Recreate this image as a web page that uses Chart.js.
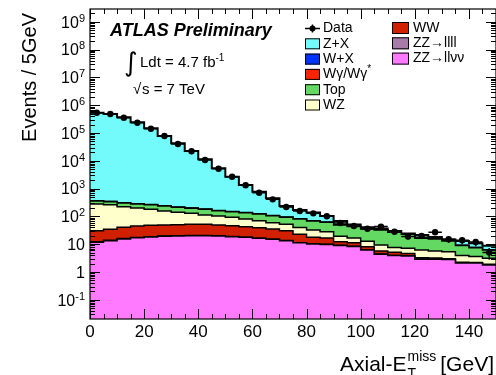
<!DOCTYPE html>
<html>
<head>
<meta charset="utf-8">
<script src="https://cdn.jsdelivr.net/npm/chart.js@4.4.1/dist/chart.umd.min.js"></script>
<style>
  html, body { margin: 0; padding: 0; background: #fff; overflow: hidden; }
  #wrap { width: 500px; height: 375px; }
</style>
</head>
<body>
<div id="wrap"><canvas id="metChart" width="500" height="375"></canvas></div>
<script>
// Axial-MET distribution, 5 GeV bins from 0 to 150 GeV
const binWidth = 5;
const binLow = [0, 5, 10, 15, 20, 25, 30, 35, 40, 45, 50, 55, 60, 65, 70,
                75, 80, 85, 90, 95, 100, 105, 110, 115, 120, 125, 130, 135, 140, 145];

const dataCounts = [537200, 482000, 355000, 235000, 143000, 78000, 40200, 22000, 10700, 5200,
                    2680, 1315, 713, 412, 218, 156, 129, 101, 58, 45,
                    36, 43, 28, 19, 20, 27, 15, 14, 12, 5];

// backgrounds, bottom of the stack first
const zzToLLNuNu = [11.7, 13.4, 15.4, 17.1, 18.2, 19.2, 19.7, 20.2, 20.2, 19.7,
                    18.6, 17.7, 16.3, 15.0, 13.4, 11.3, 10.2, 9.8, 9.0, 8.3,
                    6.2, 4.4, 3.9, 3.8, 2.9, 2.9, 2.8, 2.1, 2.1, 1.8];
const zzToLLLL = [0.5, 0.5, 0.5, 0.5, 0.4, 0.4, 0.4, 0.3, 0.3, 0.3,
                  0.2, 0.2, 0.2, 0.2, 0.1, 0.1, 0.1, 0.1, 0.1, 0.1,
                  0.05, 0.05, 0.05, 0.05, 0.03, 0.03, 0.03, 0.02, 0.02, 0.02];
const wwBkg = [18.4, 20.5, 24.7, 27.5, 29.3, 29.5, 30.2, 31.5, 31.5, 29.1,
               27.5, 24.7, 22.7, 20.0, 17.1, 11.3, 7.4, 6.8, 3.2, 2.9,
               1.85, 1.2, 1.2, 0.8, 0.35, 0.25, 0.2, 0.12, 0.1, 0.07];
const wzBkg = [248.7, 229.2, 182.7, 155.4, 132.1, 107.3, 90.1, 77.3, 60.3, 54.3,
               46.5, 38.0, 30.8, 24.1, 21.4, 17.2, 14.7, 11.5, 6.9, 5.4,
               4.6, 3.7, 2.4, 2.5, 2.9, 2.5, 2.3, 1.7, 1.4, 1.25];
const topBkg = [78.8, 74.4, 80.1, 78.8, 83.6, 80.2, 72.1, 66.3, 67.7, 56.9,
                54.8, 55.3, 52.0, 46.7, 40.8, 40.7, 35.9, 33.1, 29.9, 26.6,
                22.5, 23.0, 19.3, 15.6, 10.1, 9.7, 7.6, 5.0, 3.9, 3.1];
const wGammaBkg = [3.0, 3.0, 2.5, 2.5, 2.0, 2.0, 1.5, 1.5, 1.2, 1.0,
                   1.0, 0.8, 0.7, 0.6, 0.5, 0.4, 0.4, 0.3, 0.3, 0.2,
                   0.2, 0.2, 0.1, 0.1, 0.1, 0.1, 0.1, 0.05, 0.05, 0.05];
const wJetsBkg = [4.0, 4.0, 3.5, 3.0, 3.0, 2.5, 2.0, 2.0, 1.8, 1.5,
                  1.3, 1.2, 1.0, 0.9, 0.8, 0.7, 0.6, 0.5, 0.4, 0.4,
                  0.3, 0.3, 0.3, 0.2, 0.2, 0.2, 0.2, 0.1, 0.1, 0.1];
const zJetsBkg = [537000, 482100, 366800, 242300, 147300, 77800, 42400, 22300, 11100, 5210,
                  2530, 1210, 650, 340, 142.5, 88.2, 68.8, 41.3, 18.5, 7.2,
                  4.8, 3.8, 2.6, 1.3, 4.8, 2.5, 1.5, 4.0, 3.2, 2.5];

const xTickLabels = [0, 20, 40, 60, 80, 100, 120, 140];
const yDecades = [-1, 0, 1, 2, 3, 4, 5, 6, 7, 8, 9];

const stack = [
  { name: 'ZZ\u2192ll\u03bd\u03bd', values: zzToLLNuNu, color: '#ff7aff' },
  { name: 'ZZ\u2192llll', values: zzToLLLL, color: '#a97ba9' },
  { name: 'WW', values: wwBkg, color: '#d02000' },
  { name: 'WZ', values: wzBkg, color: '#ffffcc' },
  { name: 'Top', values: topBkg, color: '#63d863' },
  { name: 'W\u03b3/W\u03b3*', values: wGammaBkg, color: '#ff2400' },
  { name: 'W+X', values: wJetsBkg, color: '#0033ff' },
  { name: 'Z+X', values: zJetsBkg, color: '#73fafa' }
];

const legendCol1 = ['Data', 'Z+X', 'W+X', 'W\u03b3/W\u03b3*', 'Top', 'WZ'];
const legendCol2 = ['WW', 'ZZ\u2192llll', 'ZZ\u2192ll\u03bd\u03bd'];

// step outline: one point per lower edge plus the closing upper edge
function stepPoints(vals) {
  const pts = binLow.map((x, i) => ({ x: x, y: vals[i] }));
  pts.push({ x: binLow[binLow.length - 1] + binWidth, y: vals[vals.length - 1] });
  return pts;
}

let running = binLow.map(() => 0);
const histDatasets = stack.map((s, k) => {
  running = running.map((r, i) => r + s.values[i]);
  return {
    label: s.name,
    data: stepPoints(running),
    stepped: 'before',
    backgroundColor: s.color,
    borderColor: '#000',
    borderWidth: k === stack.length - 1 ? 2 : 1.5,
    pointRadius: 0,
    fill: k === 0 ? 'start' : '-1',
    order: 1
  };
});

const dataPoints = binLow.map((x, i) => ({ x: x + binWidth / 2, y: dataCounts[i] }));

const FONT = '"Liberation Sans", Arial, Helvetica, sans-serif';

// error bars for the data: bin width horizontally, sqrt(N) vertically
const errorBars = {
  id: 'errorBars',
  afterDatasetsDraw(chart) {
    const { ctx, scales: { x, y }, chartArea } = chart;
    ctx.save();
    ctx.strokeStyle = '#000';
    ctx.lineWidth = 1.5;
    ctx.beginPath();
    dataCounts.forEach((n, i) => {
      const py = y.getPixelForValue(n);
      ctx.moveTo(x.getPixelForValue(binLow[i]), py);
      ctx.lineTo(x.getPixelForValue(binLow[i] + binWidth), py);
      const err = Math.sqrt(n);
      const px = x.getPixelForValue(binLow[i] + binWidth / 2);
      const lo = n - err > 0 ? y.getPixelForValue(n - err) : chartArea.bottom;
      ctx.moveTo(px, lo);
      ctx.lineTo(px, y.getPixelForValue(n + err));
    });
    ctx.stroke();
    ctx.restore();
  }
};

function measure(ctx, text, size) {
  const old = ctx.font;
  ctx.font = size + 'px ' + FONT;
  const w = ctx.measureText(text).width;
  ctx.font = old;
  return w;
}

function drawSup(ctx, base, sup, x, y, size, supSize, rise, align) {
  const w1 = measure(ctx, base, size);
  const w2 = sup ? measure(ctx, sup, supSize) : 0;
  let x0 = x;
  if (align === 'right') x0 = x - w1 - w2;
  ctx.textAlign = 'left';
  ctx.font = size + 'px ' + FONT;
  ctx.fillText(base, x0, y);
  if (sup) {
    ctx.font = supSize + 'px ' + FONT;
    ctx.fillText(sup, x0 + w1, y - rise);
  }
}

// ROOT style frame: inward ticks on all four sides, labels, titles, legend
const frame = {
  id: 'frame',
  afterDraw(chart) {
    const { ctx, scales: { x, y }, chartArea: { left, right, top, bottom } } = chart;
    ctx.save();
    ctx.strokeStyle = '#000';
    ctx.fillStyle = '#000';
    ctx.lineWidth = 1.2;
    ctx.strokeRect(left, top, right - left, bottom - top);

    ctx.beginPath();
    for (let v = 0; v <= 150; v += 5) {
      const px = Math.round(x.getPixelForValue(v)) + 0.5;
      const len = v % 20 === 0 ? 10 : 5;
      ctx.moveTo(px, bottom); ctx.lineTo(px, bottom - len);
      ctx.moveTo(px, top); ctx.lineTo(px, top + len);
    }
    for (let d = -2; d <= 9; d++) {
      for (let m = 1; m <= 9; m++) {
        const v = m * Math.pow(10, d);
        if (v < y.min || v > y.max) continue;
        const py = Math.round(y.getPixelForValue(v)) + 0.5;
        const len = m === 1 ? 10 : 5;
        ctx.moveTo(left, py); ctx.lineTo(left + len, py);
        ctx.moveTo(right, py); ctx.lineTo(right - len, py);
      }
    }
    ctx.lineWidth = 1;
    ctx.stroke();

    // x tick labels
    ctx.textBaseline = 'alphabetic';
    ctx.textAlign = 'center';
    ctx.font = '17px ' + FONT;
    xTickLabels.forEach(v => ctx.fillText(String(v), x.getPixelForValue(v), 337));

    // y tick labels
    yDecades.forEach(d => {
      const py = y.getPixelForValue(Math.pow(10, d));
      const base = d === 0 ? '1' : '10';
      const sup = (d === 0 || d === 1) ? '' : String(d);
      drawSup(ctx, base, sup, left - 5, py + 5.7, 16, 11, 6, 'right');
    });

    // axis titles
    ctx.save();
    ctx.translate(36, 13);
    ctx.rotate(-Math.PI / 2);
    ctx.textAlign = 'right';
    ctx.font = '20px ' + FONT;
    ctx.fillText('Events / 5GeV', 0, 0);
    ctx.restore();

    ctx.textAlign = 'left';
    ctx.font = '21px ' + FONT;
    let tx = 340;
    ctx.fillText('Axial-E', tx, 371);
    tx += ctx.measureText('Axial-E').width;
    ctx.font = '14px ' + FONT;
    ctx.fillText('T', tx + 1, 378);
    ctx.fillText('miss', tx + 1, 361);
    tx += ctx.measureText('miss').width + 5;
    ctx.font = '21px ' + FONT;
    ctx.fillText('[GeV]', tx, 371);

    // labels
    ctx.font = 'italic bold 18px ' + FONT;
    ctx.fillText('ATLAS Preliminary', 110, 36);
    ctx.font = '26px "DejaVu Sans", ' + FONT;
    ctx.fillText('\u222b', 124, 71);
    drawSup(ctx, 'Ldt = 4.7 fb', '-1', 140, 67, 15, 10, 6, 'left');
    ctx.font = '15px ' + FONT;
    ctx.fillText('\u221a', 133, 94);
    ctx.fillText('s = 7 TeV', 142, 94);

    // legend
    const rowStep = 15.3;
    ctx.textBaseline = 'middle';
    ctx.lineWidth = 1;
    const drawEntry = (name, bx, bw, bh, tx2, cy) => {
      if (name === 'Data') {
        ctx.beginPath();
        ctx.moveTo(bx, cy); ctx.lineTo(bx + bw, cy);
        ctx.moveTo(bx + bw / 2, cy - 4); ctx.lineTo(bx + bw / 2, cy + 4);
        ctx.lineWidth = 1.5;
        ctx.stroke();
        ctx.beginPath();
        ctx.arc(bx + bw / 2, cy, 3, 0, Math.PI * 2);
        ctx.fill();
        ctx.lineWidth = 1;
      } else {
        const s = stack.find(e => e.name === name);
        ctx.fillStyle = s.color;
        ctx.fillRect(bx, cy - bh / 2, bw, bh);
        ctx.strokeStyle = '#000';
        ctx.strokeRect(bx + 0.5, cy - bh / 2 + 0.5, bw - 1, bh - 1);
        ctx.fillStyle = '#000';
      }
      ctx.font = '14px ' + FONT;
      if (name.endsWith('*')) {
        const main = name.slice(0, -1);
        ctx.fillText(main, tx2, cy);
        ctx.font = '10px ' + FONT;
        ctx.fillText('*', tx2 + measure(ctx, main, 14), cy - 5);
      } else {
        ctx.fillText(name, tx2, cy);
      }
    };
    legendCol1.forEach((n, i) => drawEntry(n, 305, 15, 11, 323, 28.5 + i * rowStep));
    legendCol2.forEach((n, i) => drawEntry(n, 392, 17, 12, 413, 28 + i * rowStep));
    ctx.restore();
  }
};

new Chart(document.getElementById('metChart').getContext('2d'), {
  type: 'line',
  data: {
    datasets: histDatasets.concat([{
      label: 'Data',
      data: dataPoints,
      showLine: false,
      pointRadius: 3.2,
      pointBackgroundColor: '#000',
      pointBorderWidth: 0,
      fill: false,
      order: 0
    }])
  },
  options: {
    responsive: false,
    animation: false,
    devicePixelRatio: 1,
    layout: { padding: { left: 90, top: 9, right: 3, bottom: 56 } },
    plugins: { legend: { display: false }, tooltip: { enabled: false } },
    scales: {
      x: { type: 'linear', min: 0, max: 150, display: false },
      y: { type: 'logarithmic', min: 0.0204, max: 2.9e9, display: false, bounds: 'data' }
    }
  },
  plugins: [errorBars, frame]
});
</script>
</body>
</html>
